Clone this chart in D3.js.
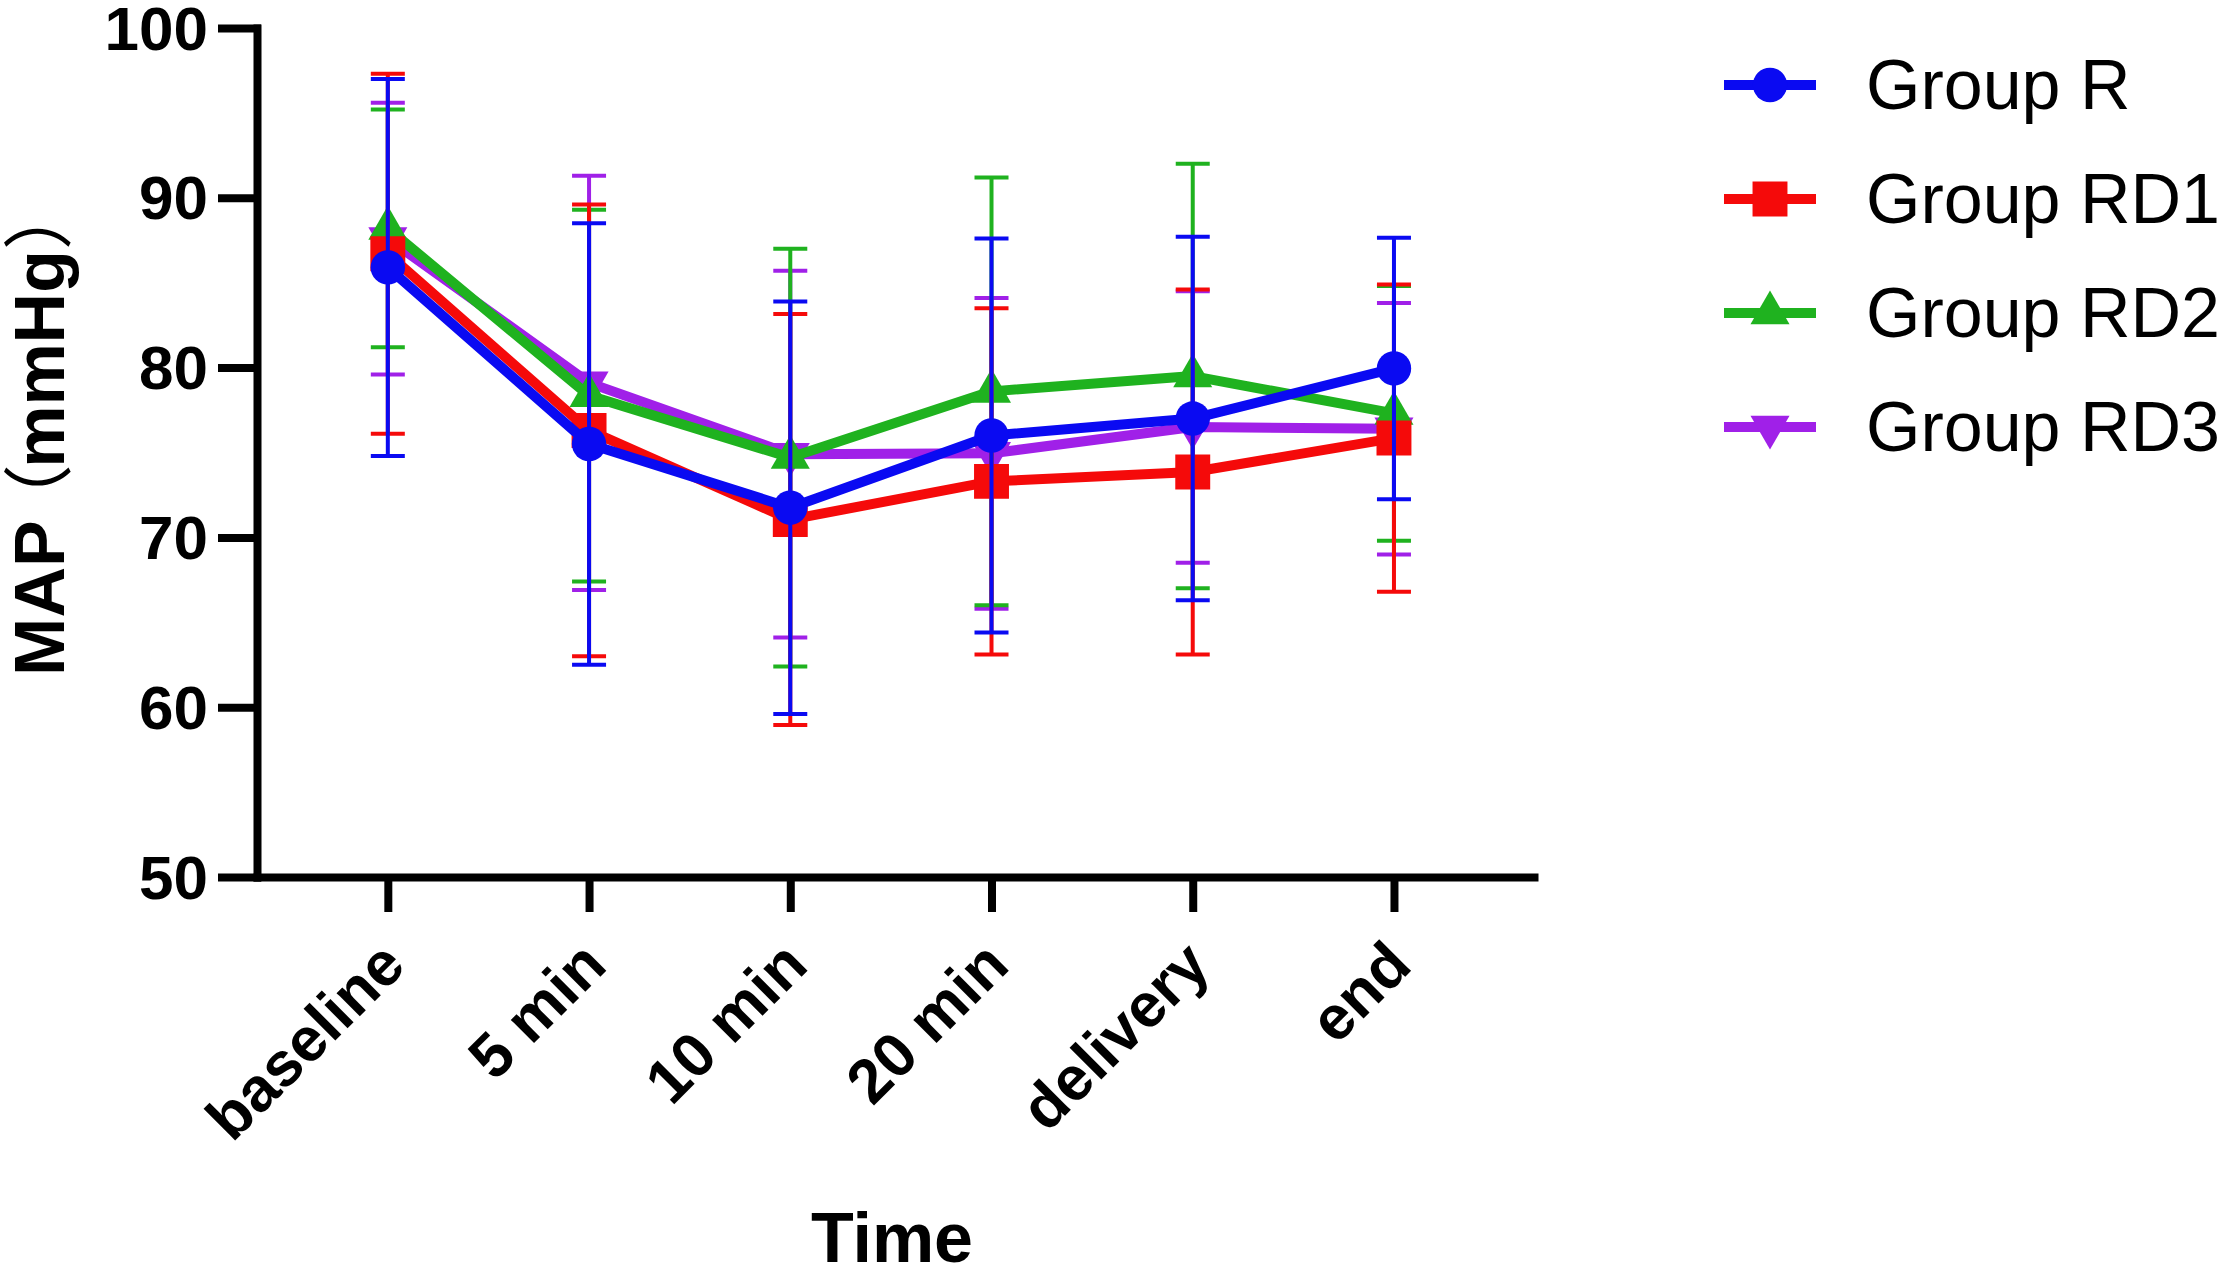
<!DOCTYPE html>
<html>
<head>
<meta charset="utf-8">
<script src="https://cdn.jsdelivr.net/npm/d3@7"></script>
<style>
  body { margin: 0; background: #fff; }
  svg { display: block; }
  text { font-family: "Liberation Sans", Arial, sans-serif; }
</style>
</head>
<body>
<svg width="2228" height="1275"></svg>
<script>
// time points
const categories = ["baseline", "5 min", "10 min", "20 min", "delivery", "end"];
const yTicks = [50, 60, 70, 80, 90, 100];

// mean and SD per group
const groupNames = ["Group R", "Group RD1", "Group RD2", "Group RD3"];
const meanR   = [85.9, 75.5, 71.75, 76.0, 77.0, 79.95];
const sdR     = [11.1, 13.0, 12.15, 11.6, 10.7, 7.7];
const meanRD1 = [86.7, 76.3, 71.05, 73.3, 73.85, 75.85];
const sdRD1   = [10.6, 13.3, 12.1, 10.2, 10.75, 9.05];
const meanRD2 = [88.2, 78.35, 74.7, 78.6, 79.5, 77.3];
const sdRD2   = [7.0, 10.95, 12.3, 12.6, 12.5, 7.5];
const meanRD3 = [87.6, 79.1, 74.9, 74.95, 76.5, 76.4];
const sdRD3   = [8.0, 12.2, 10.8, 9.15, 8.0, 7.4];

const colors = ["#0a0af2", "#f50a0a", "#1fb21f", "#a020e8"];
const symbols = [d3.symbolCircle, d3.symbolSquare, d3.symbolTriangle, d3.symbolTriangle];
const symbolSize = [930, 1220, 660, 660];
const symbolRotate = [0, 0, 0, 180];

const groups = groupNames.map((name, i) => ({
  name: name,
  mean: [meanR, meanRD1, meanRD2, meanRD3][i],
  sd: [sdR, sdRD1, sdRD2, sdRD3][i],
  color: colors[i],
  symbol: symbols[i],
  size: symbolSize[i],
  rot: symbolRotate[i]
}));

const svg = d3.select("svg");

const x = d3.scalePoint()
  .domain(categories)
  .range([257, 1534])
  .padding(0.673)
  .align(0.483);

const y = d3.scaleLinear()
  .domain([50, 100])
  .range([877, 28]);

// axes
const yAxis = d3.axisLeft(y).tickValues(yTicks).tickSize(35).tickSizeOuter(0).tickPadding(14);
const xAxis = d3.axisBottom(x).tickSize(35).tickSizeOuter(0).tickFormat("");

const gy = svg.append("g").attr("transform", "translate(257,0)").call(yAxis);
gy.selectAll("path, line").attr("stroke", "#000").attr("stroke-width", 8).attr("stroke-linecap", "square");
gy.selectAll("text")
  .attr("font-size", 62)
  .attr("font-weight", "bold")
  .attr("fill", "#000")
  .attr("dy", "0.34em");

const gx = svg.append("g").attr("transform", "translate(0,877)").call(xAxis);
gx.selectAll("path").attr("stroke", "#000").attr("stroke-width", 8).attr("stroke-linecap", "square");
gx.selectAll("line").attr("stroke", "#000").attr("stroke-width", 8);

// rotated category labels
svg.append("g").selectAll("text")
  .data(categories)
  .enter()
  .append("text")
  .attr("transform", d => "translate(" + (x(d) + 20) + ",968) rotate(-45)")
  .attr("text-anchor", "end")
  .attr("font-size", 62)
  .attr("font-weight", "bold")
  .text(d => d);

// axis titles
svg.append("text")
  .attr("x", 892)
  .attr("y", 1262)
  .attr("text-anchor", "middle")
  .attr("font-size", 70)
  .attr("font-weight", "bold")
  .text("Time");

const yTitle = svg.append("text")
  .attr("transform", "translate(64,428) rotate(-90)")
  .attr("text-anchor", "middle")
  .attr("font-size", 70)
  .attr("font-weight", "bold");
yTitle.append("tspan").text("MAP");
yTitle.append("tspan").attr("dx", "-0.2em").style("font-family", "'Noto Sans CJK SC'").attr("font-weight", "normal").text("（");
yTitle.append("tspan").attr("dx", "-0.05em").text("mmHg");
yTitle.append("tspan").style("font-family", "'Noto Sans CJK SC'").attr("font-weight", "normal").text("）");

// series: error bars, line, markers; blue drawn last (on top)
const line = d3.line()
  .x((d, i) => x(categories[i]))
  .y(d => y(d));

const drawOrder = [3, 2, 1, 0];
drawOrder.forEach(k => {
  const g = groups[k];
  const layer = svg.append("g");
  const pts = categories.map((c, i) => ({ c: c, m: g.mean[i], s: g.sd[i] }));

  layer.selectAll(".err")
    .data(pts)
    .enter()
    .append("line")
    .attr("x1", d => x(d.c))
    .attr("x2", d => x(d.c))
    .attr("y1", d => y(d.m - d.s))
    .attr("y2", d => y(d.m + d.s))
    .attr("stroke", g.color)
    .attr("stroke-width", 4);

  layer.selectAll(".capTop")
    .data(pts)
    .enter()
    .append("line")
    .attr("x1", d => x(d.c) - 17)
    .attr("x2", d => x(d.c) + 17)
    .attr("y1", d => y(d.m + d.s))
    .attr("y2", d => y(d.m + d.s))
    .attr("stroke", g.color)
    .attr("stroke-width", 4);

  layer.selectAll(".capBot")
    .data(pts)
    .enter()
    .append("line")
    .attr("x1", d => x(d.c) - 17)
    .attr("x2", d => x(d.c) + 17)
    .attr("y1", d => y(d.m - d.s))
    .attr("y2", d => y(d.m - d.s))
    .attr("stroke", g.color)
    .attr("stroke-width", 4);

  layer.append("path")
    .datum(g.mean)
    .attr("d", line)
    .attr("fill", "none")
    .attr("stroke", g.color)
    .attr("stroke-width", 10)
    .attr("stroke-linejoin", "round");

  layer.selectAll(".mark")
    .data(pts)
    .enter()
    .append("path")
    .attr("d", d3.symbol().type(g.symbol).size(g.size))
    .attr("transform", d => "translate(" + x(d.c) + "," + y(d.m) + ") rotate(" + g.rot + ")")
    .attr("fill", g.color);
});

// legend
const legend = svg.append("g");
groups.forEach((g, i) => {
  const ly = 85 + i * 114;
  legend.append("line")
    .attr("x1", 1724).attr("x2", 1816)
    .attr("y1", ly).attr("y2", ly)
    .attr("stroke", g.color)
    .attr("stroke-width", 10);
  legend.append("path")
    .attr("d", d3.symbol().type(g.symbol).size(g.size))
    .attr("transform", "translate(1770," + ly + ") rotate(" + g.rot + ")")
    .attr("fill", g.color);
  legend.append("text")
    .attr("x", 1866)
    .attr("y", ly + 24)
    .attr("font-size", 70)
    .text(g.name);
});
</script>
</body>
</html>
